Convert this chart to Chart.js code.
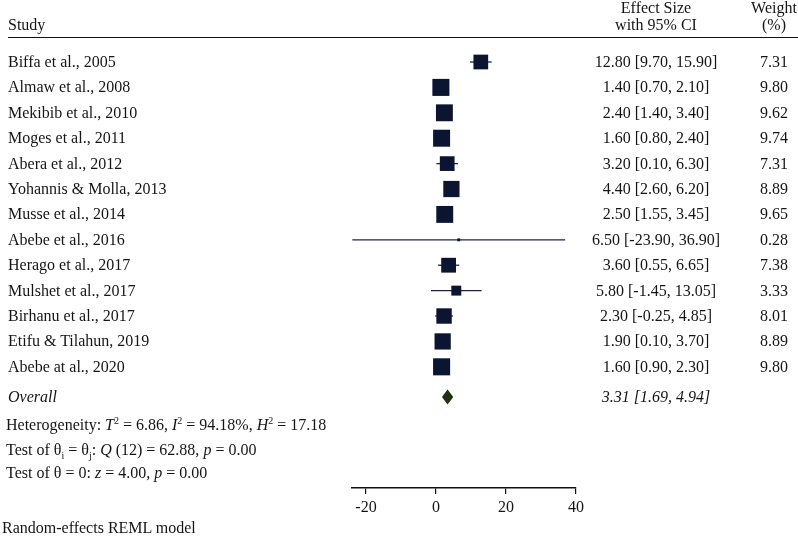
<!DOCTYPE html>
<html>
<head>
<meta charset="utf-8">
<script src="https://cdn.jsdelivr.net/npm/chart.js@4.4.0/dist/chart.umd.min.js"></script>
<style>
  body { margin: 0; background: #fff; }
  #wrap { position: relative; width: 798px; height: 536px; overflow: hidden;
          font-family: "Liberation Serif", "DejaVu Serif", serif; font-size: 16px; color: #151515; }
  #wrap canvas { position: absolute; left: 0; top: 0; }
  .t { position: absolute; white-space: nowrap; line-height: 1; transform: translateY(-50%); }
  .c { transform: translate(-50%, -50%); text-align: center; }
  .rule { position: absolute; left: 8px; right: 0; top: 37px; height: 0; border-top: 1.5px solid #111; }
  sup, sub { font-size: 10px; line-height: 0; }
</style>
</head>
<body>
<div id="wrap">
  <canvas id="forest" width="798" height="536"></canvas>
  <div class="rule"></div>
</div>
<script>
// ── Data ──
var studies = ['Biffa et al., 2005', 'Almaw et al., 2008', 'Mekibib et al., 2010', 'Moges et al., 2011',
  'Abera et al., 2012', 'Yohannis & Molla, 2013', 'Musse et al., 2014', 'Abebe et al., 2016',
  'Herago et al., 2017', 'Mulshet et al., 2017', 'Birhanu et al., 2017', 'Etifu & Tilahun, 2019',
  'Abebe at al., 2020'];
var effects = [12.80, 1.40, 2.40, 1.60, 3.20, 4.40, 2.50, 6.50, 3.60, 5.80, 2.30, 1.90, 1.60];
var lower   = [9.70, 0.70, 1.40, 0.80, 0.10, 2.60, 1.55, -23.90, 0.55, -1.45, -0.25, 0.10, 0.90];
var upper   = [15.90, 2.10, 3.40, 2.40, 6.30, 6.20, 3.45, 36.90, 6.65, 13.05, 4.85, 3.70, 2.30];
var weights = [7.31, 9.80, 9.62, 9.74, 7.31, 8.89, 9.65, 0.28, 7.38, 3.33, 8.01, 8.89, 9.80];
var overallES = 3.31;
var overallLo = 1.69;
var overallHi = 4.94;
var xTicks = [-20, 0, 20, 40];

var NAVY = '#0b1431';
var overallRow = studies.length + 0.19;

function fmt(v) { return v.toFixed(2); }

// CI whiskers, one small line dataset per study
var ciSets = studies.map(function(s, i) {
  return {
    type: 'line',
    data: [{ x: lower[i], y: i }, { x: upper[i], y: i }],
    borderColor: '#1c2540',
    borderWidth: 1.3,
    pointRadius: 0,
    fill: false,
    order: 2
  };
});

var boxSet = {
  type: 'scatter',
  data: effects.map(function(e, i) { return { x: e, y: i }; }),
  pointStyle: 'rect',
  pointRadius: weights.map(function(w) { return 3.85 * Math.sqrt(w); }),
  backgroundColor: NAVY,
  borderColor: NAVY,
  borderWidth: 0,
  order: 1
};

// overall diamond spans the pooled CI
var diamondPlugin = {
  id: 'diamond',
  afterDatasetsDraw: function(c) {
    var xs = c.scales.x, ys = c.scales.y, ctx = c.ctx;
    var cy = ys.getPixelForValue(overallRow);
    var l = xs.getPixelForValue(overallLo), r = xs.getPixelForValue(overallHi), m = xs.getPixelForValue(overallES);
    ctx.save();
    ctx.beginPath();
    ctx.moveTo(l, cy);
    ctx.lineTo(m, cy - 7.5);
    ctx.lineTo(r, cy);
    ctx.lineTo(m, cy + 7.5);
    ctx.closePath();
    ctx.fillStyle = '#1d3310';
    ctx.fill();
    ctx.restore();
  }
};

var chart = new Chart(document.getElementById('forest'), {
  type: 'scatter',
  data: { datasets: [boxSet].concat(ciSets) },
  options: {
    responsive: false,
    animation: false,
    layout: { padding: { left: 352, right: 222, top: 40, bottom: 0 } },
    plugins: { legend: { display: false }, tooltip: { enabled: false } },
    scales: {
      x: {
        type: 'linear',
        min: -24,
        max: 40,
        afterBuildTicks: function(s) { s.ticks = xTicks.map(function(v) { return { value: v }; }); },
        afterFit: function(s) { s.height = 48; },
        grid: { drawOnChartArea: false, drawTicks: true, tickLength: 6, color: '#111', lineWidth: 1.2 },
        border: { display: true, color: '#111', width: 1.5 },
        ticks: { color: '#151515', padding: 4, font: { family: 'Liberation Serif', size: 16 } }
      },
      y: {
        type: 'linear',
        reverse: true,
        min: -0.866,
        max: 16.77,
        display: false
      }
    }
  },
  plugins: [diamondPlugin]
});

// ── Text columns ──
var wrap = document.getElementById('wrap');
function addText(html, x, y, center, italic) {
  var d = document.createElement('div');
  d.className = 't' + (center ? ' c' : '');
  d.style.left = x + 'px';
  d.style.top = y + 'px';
  if (italic) d.style.fontStyle = 'italic';
  d.innerHTML = html;
  wrap.appendChild(d);
}

var colStudy = 8, colES = 656, colW = 774;
addText('Study', colStudy, 25);
addText('Effect Size', colES, 8, true);
addText('with 95% CI', colES, 25, true);
addText('Weight', colW, 8, true);
addText('(%)', colW, 25, true);

var yScale = chart.scales.y;
studies.forEach(function(s, i) {
  var py = yScale.getPixelForValue(i);
  addText(s.replace('&', '&amp;'), colStudy, py);
  addText(fmt(effects[i]) + ' [' + fmt(lower[i]) + ', ' + fmt(upper[i]) + ']', colES, py, true);
  addText(fmt(weights[i]), colW, py, true);
});
var oy = yScale.getPixelForValue(overallRow);
addText('Overall', colStudy, oy, false, true);
addText(fmt(overallES) + ' [' + fmt(overallLo) + ', ' + fmt(overallHi) + ']', colES, oy, true, true);

addText('Heterogeneity: <i>T</i><sup>2</sup> = 6.86, <i>I</i><sup>2</sup> = 94.18%, <i>H</i><sup>2</sup> = 17.18', 6, 425);
addText('Test of θ<sub>i</sub> = θ<sub>j</sub>: <i>Q</i> (12) = 62.88, <i>p</i> = 0.00', 6, 450);
addText('Test of θ = 0: <i>z</i> = 4.00, <i>p</i> = 0.00', 6, 473);
addText('Random-effects REML model', 2, 528);
</script>
</body>
</html>
